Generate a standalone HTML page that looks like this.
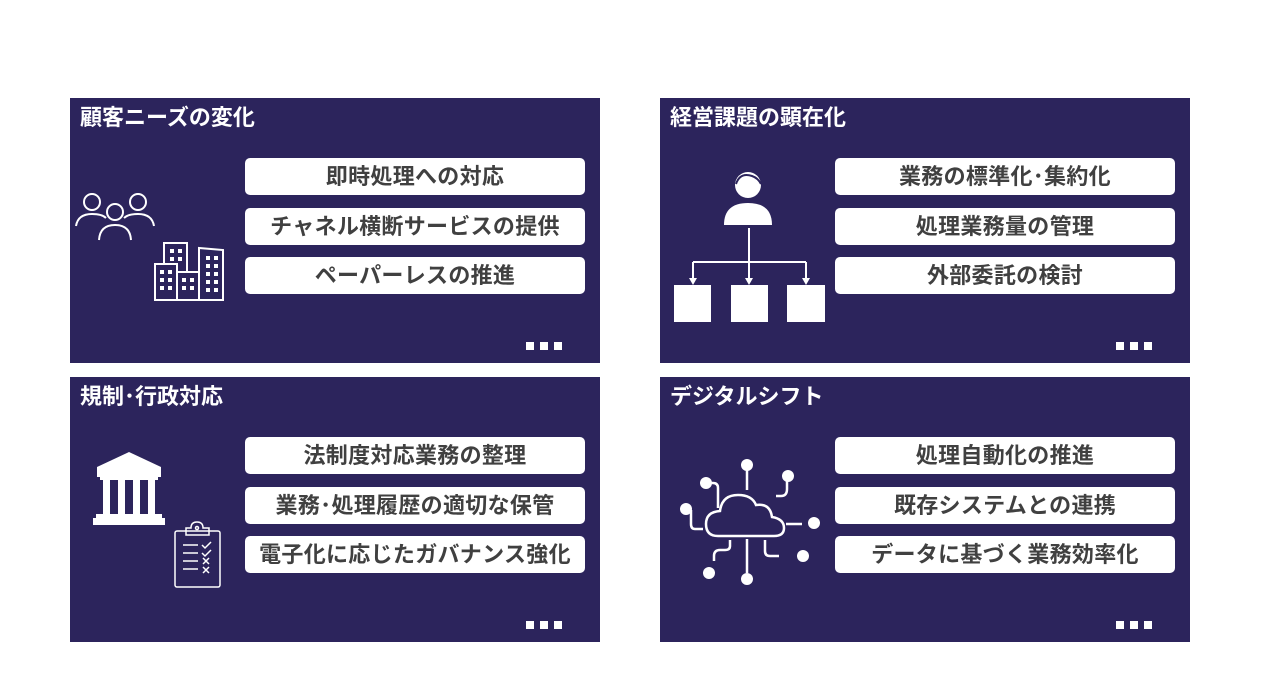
<!DOCTYPE html>
<html><head><meta charset="utf-8"><style>
body{margin:0;width:1280px;height:690px;background:#fff;position:relative;overflow:hidden;font-family:"Liberation Sans","Noto Sans CJK JP",sans-serif}
.p{position:absolute;width:530px;height:265px;background:#2c245c}
.t{position:absolute;left:10px;top:5px;color:#fff;font-weight:bold;font-size:22px;line-height:30px}
.b{position:absolute;left:175px;width:340px;height:37px;background:#fff;border-radius:5px;color:#404040;font-weight:bold;font-size:22px;text-align:center;line-height:37px;letter-spacing:0.3px}
.d{position:absolute;top:244px;width:8px;height:8px;background:#fff}
svg{position:absolute;left:0;top:0}
</style></head><body>
<div class="p" style="left:70px;top:98px">
<div class="t">顧客ニーズの変化</div>
<div class="b" style="top:60px">即時処理への対応</div>
<div class="b" style="top:110px">チャネル横断サービスの提供</div>
<div class="b" style="top:159px">ペーパーレスの推進</div>
<div class="d" style="left:456px"></div><div class="d" style="left:470px"></div><div class="d" style="left:484px"></div>
<svg width="530" height="265" fill="none" stroke="#fff" stroke-width="2">
<circle cx="22" cy="104" r="8"/><circle cx="68" cy="104" r="8"/><circle cx="45" cy="114" r="8"/>
<path d="M6 128 Q8 116 22 116 Q32 116 36 120"/><path d="M54 120 Q58 116 68 116 Q82 116 84 128"/>
<path d="M29 142 Q30 127 45 127 Q60 127 61 142"/>
<path d="M85 202 V166 H107 V202 M107 202 V174 H129 V202 M94 166 V145 H117 V174 M129 202 V150 L153 152 V202 M84 202 H154"/>
<g fill="#fff" stroke="none"><rect x="100" y="151" width="4" height="4"/><rect x="108" y="151" width="4" height="4"/><rect x="100" y="159" width="4" height="4"/><rect x="108" y="159" width="4" height="4"/>
<rect x="90" y="172" width="4" height="4"/><rect x="98" y="172" width="4" height="4"/><rect x="90" y="180" width="4" height="4"/><rect x="98" y="180" width="4" height="4"/><rect x="90" y="188" width="4" height="4"/><rect x="98" y="188" width="4" height="4"/>
<rect x="112" y="180" width="4" height="4"/><rect x="120" y="180" width="4" height="4"/><rect x="112" y="188" width="4" height="4"/><rect x="120" y="188" width="4" height="4"/>
<rect x="136" y="158" width="4" height="4"/><rect x="144" y="158" width="4" height="4"/><rect x="136" y="166" width="4" height="4"/><rect x="144" y="166" width="4" height="4"/><rect x="136" y="174" width="4" height="4"/><rect x="144" y="174" width="4" height="4"/><rect x="136" y="182" width="4" height="4"/><rect x="144" y="182" width="4" height="4"/><rect x="136" y="190" width="4" height="4"/><rect x="144" y="190" width="4" height="4"/></g>
</svg>
</div>
<div class="p" style="left:660px;top:98px">
<div class="t">経営課題の顕在化</div>
<div class="b" style="top:60px">業務の標準化･集約化</div>
<div class="b" style="top:110px">処理業務量の管理</div>
<div class="b" style="top:159px">外部委託の検討</div>
<div class="d" style="left:456px"></div><div class="d" style="left:470px"></div><div class="d" style="left:484px"></div>
<svg width="530" height="265">
<g fill="#fff"><circle cx="88" cy="87" r="13"/><path d="M64 127 Q64 105 88 105 Q112 105 112 127 Z"/>
<rect x="14" y="187" width="37" height="37"/><rect x="71" y="187" width="37" height="37"/><rect x="127" y="187" width="38" height="37"/>
<path d="M29 180 L33 187 L37 180Z M85 180 L89 187 L93 180Z M142 180 L146 187 L150 180Z"/></g>
<path d="M89 130 V164 M33 164 H146 M33 164 V181 M89 164 V181 M146 164 V181" stroke="#fff" stroke-width="2" fill="none"/>
<path d="M76 86 Q80 74 92 78 Q98 80 101 86" stroke="#2c245c" stroke-width="2" fill="none"/>
</svg>
</div>
<div class="p" style="left:70px;top:377px">
<div class="t">規制･行政対応</div>
<div class="b" style="top:60px">法制度対応業務の整理</div>
<div class="b" style="top:110px">業務･処理履歴の適切な保管</div>
<div class="b" style="top:159px">電子化に応じたガバナンス強化</div>
<div class="d" style="left:456px"></div><div class="d" style="left:470px"></div><div class="d" style="left:484px"></div>
<svg width="530" height="265">
<g fill="#fff"><path d="M27 90 L59 75 L91 90 V100 H27Z"/><rect x="30" y="100" width="58" height="3"/>
<rect x="33" y="103" width="7" height="34"/><rect x="48" y="103" width="7" height="34"/><rect x="63" y="103" width="7" height="34"/><rect x="78" y="103" width="7" height="34"/>
<rect x="26" y="137" width="66" height="4"/><rect x="23" y="141" width="72" height="7"/></g>
<g stroke="#fff" stroke-width="1.5" fill="none"><rect x="105" y="154" width="45" height="56" rx="2"/><path d="M116 158 V151 H121 Q121 145 127 145 Q133 145 133 151 H139 V158 Z"/><circle cx="127" cy="151" r="1.5"/>
<path d="M113 168 H128 M113 176 H128 M113 184 H128 M113 192 H128 M132 168 l3 3 l6 -6 M132 176 l3 3 l6 -6 M133 181 l6 6 M139 181 l-6 6 M133 190 l6 6 M139 190 l-6 6"/></g>
</svg>
</div>
<div class="p" style="left:660px;top:377px">
<div class="t">デジタルシフト</div>
<div class="b" style="top:60px">処理自動化の推進</div>
<div class="b" style="top:110px">既存システムとの連携</div>
<div class="b" style="top:159px">データに基づく業務効率化</div>
<div class="d" style="left:456px"></div><div class="d" style="left:470px"></div><div class="d" style="left:484px"></div>
<svg width="530" height="265">
<g stroke="#fff" stroke-width="2.5" fill="none">
<path d="M58 159 Q46 159 46 147 Q46 135 60 134 Q62 118 78 118 Q92 118 96 128 Q110 126 112 140 Q124 142 124 151 Q124 159 114 159 Z"/>
<path d="M87 113 V88 M58 131 V111 Q58 106 53 106 H48 M116 119 H121 Q127 119 127 112 V103 M126 147 H142 M105 163 V174 Q105 179 110 179 H119 M87 162 V196 M70 163 V169 Q70 173 65 173 H60 Q54 173 54 179 V184 M43 152 H35 Q31 152 31 147 V133"/>
</g>
<g fill="#fff"><circle cx="87" cy="88" r="6"/><circle cx="46" cy="106" r="6"/><circle cx="128" cy="99" r="6"/><circle cx="26" cy="132" r="6"/><circle cx="154" cy="146" r="6"/><circle cx="143" cy="179" r="6"/><circle cx="87" cy="202" r="6"/><circle cx="49" cy="196" r="6"/></g>
</svg>
</div>
</body></html>
